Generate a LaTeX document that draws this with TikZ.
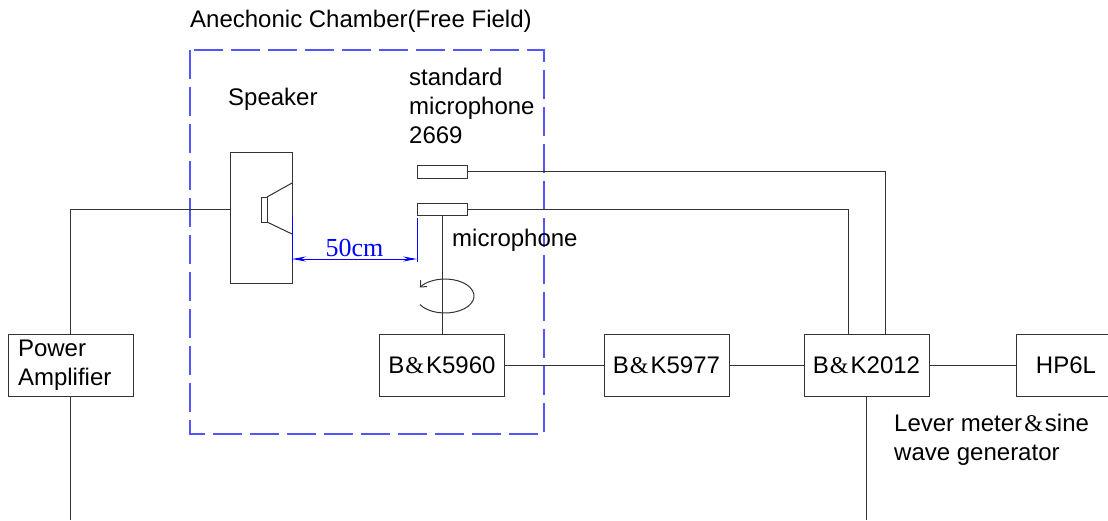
\documentclass[tikz,border=0pt]{standalone}
\usepackage{fontspec}
\setmainfont{Liberation Sans}
\newfontfamily\serifb{Liberation Serif}
\usetikzlibrary{arrows.meta}
\newcommand{\bkamp}{B\kern1pt{\serifb\&}\kern2pt K}
\definecolor{chamberblue}{RGB}{85,85,255}
\begin{document}
\begin{tikzpicture}[x=1pt,y=-1pt,
  wire/.style={draw=black!80, line width=1pt},
  devbox/.style={draw=black!80, line width=1pt, minimum width=125pt, minimum height=62pt, inner sep=0pt, font=\fontsize{24}{29}\selectfont},
  smallbox/.style={draw=black!80, line width=1pt, minimum width=50pt, inner sep=0pt},
  lbl/.style={anchor=base west, inner sep=0pt, align=left, font=\fontsize{24}{29}\selectfont},
  dim/.style={draw=blue, line width=1pt},
  chamber/.style={draw=chamberblue, line width=1.2pt, dash pattern=on 29pt off 8pt}]
\path[use as bounding box] (0,0) rectangle (1108,520);
\clip (0,0) rectangle (1108,520);
% chamber
\draw[chamber] (190,50) rectangle (544,434);
% labels (base anchor = baseline of last line)
\node[lbl] (title) at (190,27) {Anechonic Chamber(Free Field)};
\node[lbl] (spklbl) at (228,105) {Speaker};
\node[lbl] (smlbl) at (409,143) {standard\\microphone\\2669};
\node[lbl] (mlbl) at (452,246) {microphone};
\node[lbl] (lvl) at (894,460) {Lever meter\kern2pt{\serifb\&}\kern2pt sine\\wave generator};
% speaker
\node[draw=black!80, line width=1pt, minimum width=62pt, minimum height=131pt, inner sep=0pt] (spk) at (261,217.5) {};
\draw[wire] (261,197) rectangle (267,222);
\draw[wire] (267,197) -- (292,183);
\draw[wire] (267,222) -- (292,234);
% microphones
\node[smallbox, minimum height=13pt] (smic) at (442,171.5) {};
\node[smallbox, minimum height=12pt] (mic) at (442,209) {};
% devices
\node[devbox] (bk5960) at (442,365) {\bkamp5960};
\node[devbox] (bk5977) at (666.5,365) {\bkamp5977};
\node[devbox] (bk2012) at (866.5,365) {\bkamp2012};
\node[devbox, minimum width=100pt] (hp) at (1066,365) {HP6L};
\node[devbox, text width=105pt, inner xsep=10pt, align=left] (pa) at (70.5,365) {Power\\Amplifier};
% connectors
\coordinate (spkin) at (230,209);
\draw[wire] (spkin) -| (pa.north);
\coordinate (paend) at (70.5,520);
\draw[wire] (pa.south) -- (paend);
\draw[wire] (smic.east) -| ([xshift=18.5pt]bk2012.north);
\draw[wire] (mic.east) -| ([xshift=-18.5pt]bk2012.north);
\draw[wire] (mic.south) -- (bk5960.north);
\draw[wire] (bk5960.east) -- (bk5977.west);
\draw[wire] (bk5977.east) -- (bk2012.west);
\draw[wire] (bk2012.east) -- (hp.west);
\coordinate (bkend) at (866.5,520);
\draw[wire] (bk2012.south) -- (bkend);
% rotation
\draw[wire, -{Straight Barb[length=5pt,width=9pt]}] (445,296) ++(150:29 and 17) arc[start angle=150, end angle=-150, x radius=29, y radius=17];
% dimension
\coordinate (d1a) at (292,216);
\coordinate (d1b) at (292,262);
\coordinate (d2a) at (417,218);
\coordinate (d2b) at (417,262);
\draw[dim] (d1a) -- (d1b);
\draw[dim] (d2a) -- (d2b);
\coordinate (a1) at (292,259);
\coordinate (a2) at (417,259);
\draw[dim, {Stealth[length=14pt,width=5pt]}-{Stealth[length=14pt,width=5pt]}] (a1) -- (a2);
\node[text=blue, inner sep=0pt, anchor=base, font=\serifb\fontsize{26}{26}\selectfont] (dimlbl) at (354.5,256) {50cm};
\end{tikzpicture}
\end{document}
